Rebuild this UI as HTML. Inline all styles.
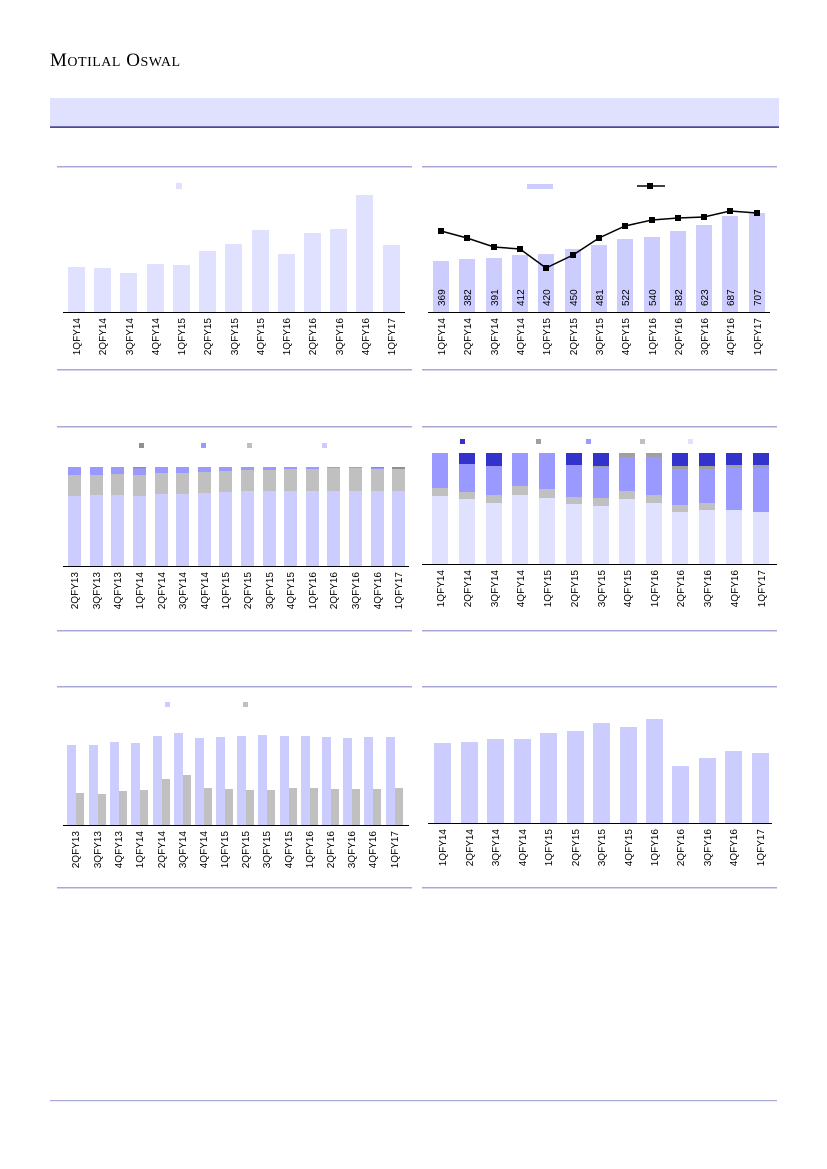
<!DOCTYPE html>
<html><head><meta charset="utf-8"><style>
body{margin:0;background:#fff}
svg{display:block}
text{font-family:"Liberation Sans",sans-serif;font-size:10px;fill:#000}
</style></head><body>
<svg width="827" height="1169" viewBox="0 0 827 1169" xmlns="http://www.w3.org/2000/svg">
<text x="50" y="66" style="font-family:'Liberation Serif',serif;font-size:19px;letter-spacing:0.5px">M<tspan style="font-size:14px">OTILAL</tspan> O<tspan style="font-size:14px">SWAL</tspan></text>
<rect x="50" y="98" width="729" height="29" fill="#e0e0ff"/>
<rect x="50" y="126.5" width="729" height="1.2" fill="#000060"/>
<g fill="#a8a8d8">
<rect x="57" y="166" width="355" height="1.5"/><rect x="422" y="166" width="355" height="1.5"/>
<rect x="57" y="369" width="355" height="1.5"/><rect x="422" y="369" width="355" height="1.5"/>
<rect x="57" y="426" width="355" height="1.5"/><rect x="422" y="426" width="355" height="1.5"/>
<rect x="57" y="630" width="355" height="1.5"/><rect x="422" y="630" width="355" height="1.5"/>
<rect x="57" y="686" width="355" height="1.5"/><rect x="422" y="686" width="355" height="1.5"/>
<rect x="57" y="887" width="355" height="1.5"/><rect x="422" y="887" width="355" height="1.5"/>
<rect x="50" y="1100" width="727" height="1.2"/>
</g>

<!-- Chart 1 -->
<g fill="#e0e0ff">
<rect x="176" y="183" width="6" height="6"/>
<rect x="68" y="267" width="17" height="45"/><rect x="94" y="268" width="17" height="44"/><rect x="120" y="273" width="17" height="39"/><rect x="147" y="264" width="17" height="48"/><rect x="173" y="265" width="17" height="47"/><rect x="199" y="251" width="17" height="61"/><rect x="225" y="244" width="17" height="68"/><rect x="252" y="230" width="17" height="82"/><rect x="278" y="254" width="17" height="58"/><rect x="304" y="233" width="17" height="79"/><rect x="330" y="229" width="17" height="83"/><rect x="356" y="195" width="17" height="117"/><rect x="383" y="245" width="17" height="67"/>
</g>
<rect x="63" y="312" width="342" height="1" fill="#000"/>
<g text-anchor="end">
<text transform="translate(80,318) rotate(-90)">1QFY14</text><text transform="translate(106,318) rotate(-90)">2QFY14</text><text transform="translate(133,318) rotate(-90)">3QFY14</text><text transform="translate(159,318) rotate(-90)">4QFY14</text><text transform="translate(185,318) rotate(-90)">1QFY15</text><text transform="translate(211,318) rotate(-90)">2QFY15</text><text transform="translate(238,318) rotate(-90)">3QFY15</text><text transform="translate(264,318) rotate(-90)">4QFY15</text><text transform="translate(290,318) rotate(-90)">1QFY16</text><text transform="translate(316,318) rotate(-90)">2QFY16</text><text transform="translate(343,318) rotate(-90)">3QFY16</text><text transform="translate(369,318) rotate(-90)">4QFY16</text><text transform="translate(395,318) rotate(-90)">1QFY17</text>
</g>

<!-- Chart 2 -->
<g fill="#ccccff">
<rect x="527" y="184" width="26" height="5"/>
<rect x="433" y="261" width="16" height="51"/><rect x="459" y="259" width="16" height="53"/><rect x="486" y="258" width="16" height="54"/><rect x="512" y="255" width="16" height="57"/><rect x="538" y="254" width="16" height="58"/><rect x="565" y="249" width="16" height="63"/><rect x="591" y="245" width="16" height="67"/><rect x="617" y="239" width="16" height="73"/><rect x="644" y="237" width="16" height="75"/><rect x="670" y="231" width="16" height="81"/><rect x="696" y="225" width="16" height="87"/><rect x="722" y="216" width="16" height="96"/><rect x="749" y="213" width="16" height="99"/>
</g>
<rect x="428" y="312" width="342" height="1" fill="#000"/>
<line x1="637" y1="186" x2="665" y2="186" stroke="#000" stroke-width="1.5"/><rect x="647" y="183" width="6" height="6" fill="#000"/>
<polyline points="441,231 467,238 494,247 520,249 546,268 573,255 599,238 625,226 652,220 678,218 704,217 730,211 757,213" fill="none" stroke="#000" stroke-width="1.5"/>
<g fill="#000">
<rect x="438" y="228" width="6" height="6"/><rect x="464" y="235" width="6" height="6"/><rect x="491" y="244" width="6" height="6"/><rect x="517" y="246" width="6" height="6"/><rect x="543" y="265" width="6" height="6"/><rect x="570" y="252" width="6" height="6"/><rect x="596" y="235" width="6" height="6"/><rect x="622" y="223" width="6" height="6"/><rect x="649" y="217" width="6" height="6"/><rect x="675" y="215" width="6" height="6"/><rect x="701" y="214" width="6" height="6"/><rect x="727" y="208" width="6" height="6"/><rect x="754" y="210" width="6" height="6"/>
</g>
<g text-anchor="start">
<text transform="translate(445,306) rotate(-90)">369</text><text transform="translate(471,306) rotate(-90)">382</text><text transform="translate(498,306) rotate(-90)">391</text><text transform="translate(524,306) rotate(-90)">412</text><text transform="translate(550,306) rotate(-90)">420</text><text transform="translate(577,306) rotate(-90)">450</text><text transform="translate(603,306) rotate(-90)">481</text><text transform="translate(629,306) rotate(-90)">522</text><text transform="translate(656,306) rotate(-90)">540</text><text transform="translate(682,306) rotate(-90)">582</text><text transform="translate(708,306) rotate(-90)">623</text><text transform="translate(734,306) rotate(-90)">687</text><text transform="translate(761,306) rotate(-90)">707</text>
</g>
<g text-anchor="end">
<text transform="translate(445,318) rotate(-90)">1QFY14</text><text transform="translate(471,318) rotate(-90)">2QFY14</text><text transform="translate(498,318) rotate(-90)">3QFY14</text><text transform="translate(524,318) rotate(-90)">4QFY14</text><text transform="translate(550,318) rotate(-90)">1QFY15</text><text transform="translate(577,318) rotate(-90)">2QFY15</text><text transform="translate(603,318) rotate(-90)">3QFY15</text><text transform="translate(629,318) rotate(-90)">4QFY15</text><text transform="translate(656,318) rotate(-90)">1QFY16</text><text transform="translate(682,318) rotate(-90)">2QFY16</text><text transform="translate(708,318) rotate(-90)">3QFY16</text><text transform="translate(734,318) rotate(-90)">4QFY16</text><text transform="translate(761,318) rotate(-90)">1QFY17</text>
</g>

<!-- Chart 3 -->
<rect x="139" y="443" width="5" height="5" fill="#909090"/><rect x="201" y="443" width="5" height="5" fill="#9999ff"/><rect x="247" y="443" width="5" height="5" fill="#c0c0c0"/><rect x="322" y="443" width="5" height="5" fill="#ccccff"/>
<g fill="#ccccff">
<rect x="68" y="496" width="13" height="70"/><rect x="90" y="495" width="13" height="71"/><rect x="111" y="495" width="13" height="71"/><rect x="133" y="496" width="13" height="70"/><rect x="155" y="494" width="13" height="72"/><rect x="176" y="494" width="13" height="72"/><rect x="198" y="493" width="13" height="73"/><rect x="219" y="492" width="13" height="74"/><rect x="241" y="491" width="13" height="75"/><rect x="263" y="491" width="13" height="75"/><rect x="284" y="491" width="13" height="75"/><rect x="306" y="491" width="13" height="75"/><rect x="327" y="491" width="13" height="75"/><rect x="349" y="491" width="13" height="75"/><rect x="371" y="491" width="13" height="75"/><rect x="392" y="491" width="13" height="75"/>
</g>
<g fill="#c0c0c0">
<rect x="68" y="475" width="13" height="21"/><rect x="90" y="475" width="13" height="20"/><rect x="111" y="474" width="13" height="21"/><rect x="133" y="475" width="13" height="21"/><rect x="155" y="473" width="13" height="21"/><rect x="176" y="473" width="13" height="21"/><rect x="198" y="472" width="13" height="21"/><rect x="219" y="471" width="13" height="21"/><rect x="241" y="470" width="13" height="21"/><rect x="263" y="470" width="13" height="21"/><rect x="284" y="469" width="13" height="22"/><rect x="306" y="469" width="13" height="22"/><rect x="327" y="468" width="13" height="23"/><rect x="349" y="468" width="13" height="23"/><rect x="371" y="469" width="13" height="22"/><rect x="392" y="469" width="13" height="22"/>
</g>
<g fill="#9999ff">
<rect x="68" y="467" width="13" height="8"/><rect x="90" y="467" width="13" height="8"/><rect x="111" y="467" width="13" height="7"/><rect x="133" y="468" width="13" height="7"/><rect x="155" y="467" width="13" height="6"/><rect x="176" y="467" width="13" height="6"/><rect x="198" y="467" width="13" height="5"/><rect x="219" y="467" width="13" height="4"/><rect x="241" y="467" width="13" height="3"/><rect x="263" y="467" width="13" height="3"/><rect x="284" y="467" width="13" height="2"/><rect x="306" y="467" width="13" height="2"/><rect x="327" y="467" width="13" height="1"/><rect x="349" y="467" width="13" height="1"/><rect x="371" y="468" width="13" height="1"/>
</g>
<g fill="#909090"><rect x="133" y="467" width="13" height="1.3"/><rect x="371" y="467" width="13" height="1"/><rect x="392" y="467" width="13" height="2"/></g>
<rect x="63" y="566" width="346" height="1" fill="#000"/>
<g text-anchor="end">
<text transform="translate(78,572) rotate(-90)">2QFY13</text><text transform="translate(100,572) rotate(-90)">3QFY13</text><text transform="translate(121,572) rotate(-90)">4QFY13</text><text transform="translate(143,572) rotate(-90)">1QFY14</text><text transform="translate(165,572) rotate(-90)">2QFY14</text><text transform="translate(186,572) rotate(-90)">3QFY14</text><text transform="translate(208,572) rotate(-90)">4QFY14</text><text transform="translate(229,572) rotate(-90)">1QFY15</text><text transform="translate(251,572) rotate(-90)">2QFY15</text><text transform="translate(273,572) rotate(-90)">3QFY15</text><text transform="translate(294,572) rotate(-90)">4QFY15</text><text transform="translate(316,572) rotate(-90)">1QFY16</text><text transform="translate(337,572) rotate(-90)">2QFY16</text><text transform="translate(359,572) rotate(-90)">3QFY16</text><text transform="translate(381,572) rotate(-90)">4QFY16</text><text transform="translate(402,572) rotate(-90)">1QFY17</text>
</g>

<!-- Chart 4 -->
<rect x="460" y="439" width="5" height="5" fill="#3333cc"/><rect x="536" y="439" width="5" height="5" fill="#a0a0a0"/><rect x="586" y="439" width="5" height="5" fill="#9999ff"/><rect x="640" y="439" width="5" height="5" fill="#c0c0c0"/><rect x="688" y="439" width="5" height="5" fill="#e0e0ff"/>
<g fill="#e0e0ff">
<rect x="432" y="496" width="16" height="68"/><rect x="459" y="499" width="16" height="65"/><rect x="486" y="503" width="16" height="61"/><rect x="512" y="495" width="16" height="69"/><rect x="539" y="498" width="16" height="66"/><rect x="566" y="504" width="16" height="60"/><rect x="593" y="506" width="16" height="58"/><rect x="619" y="499" width="16" height="65"/><rect x="646" y="503" width="16" height="61"/><rect x="672" y="512" width="16" height="52"/><rect x="699" y="510" width="16" height="54"/><rect x="726" y="510" width="16" height="54"/><rect x="753" y="512" width="16" height="52"/>
</g>
<g fill="#c0c0c0">
<rect x="432" y="488" width="16" height="8"/><rect x="459" y="492" width="16" height="7"/><rect x="486" y="495" width="16" height="8"/><rect x="512" y="486" width="16" height="9"/><rect x="539" y="489" width="16" height="9"/><rect x="566" y="497" width="16" height="7"/><rect x="593" y="498" width="16" height="8"/><rect x="619" y="491" width="16" height="8"/><rect x="646" y="495" width="16" height="8"/><rect x="672" y="505" width="16" height="7"/><rect x="699" y="503" width="16" height="7"/>
</g>
<g fill="#9999ff">
<rect x="432" y="453" width="16" height="35"/><rect x="459" y="464" width="16" height="28"/><rect x="486" y="466" width="16" height="29"/><rect x="512" y="453" width="16" height="33"/><rect x="539" y="453" width="16" height="36"/><rect x="566" y="465" width="16" height="32"/><rect x="593" y="467" width="16" height="31"/><rect x="619" y="457" width="16" height="34"/><rect x="646" y="457" width="16" height="38"/><rect x="672" y="469" width="16" height="36"/><rect x="699" y="469" width="16" height="34"/><rect x="726" y="468" width="16" height="42"/><rect x="753" y="468" width="16" height="44"/>
</g>
<g fill="#a0a0a0">
<rect x="593" y="466" width="16" height="1"/><rect x="619" y="453" width="16" height="4"/><rect x="646" y="453" width="16" height="4"/><rect x="672" y="466" width="16" height="3"/><rect x="699" y="466" width="16" height="3"/><rect x="726" y="465" width="16" height="3"/><rect x="753" y="465" width="16" height="3"/>
</g>
<g fill="#3333cc">
<rect x="459" y="453" width="16" height="11"/><rect x="486" y="453" width="16" height="13"/><rect x="566" y="453" width="16" height="12"/><rect x="593" y="453" width="16" height="13"/><rect x="672" y="453" width="16" height="13"/><rect x="699" y="453" width="16" height="13"/><rect x="726" y="453" width="16" height="12"/><rect x="753" y="453" width="16" height="12"/>
</g>
<rect x="422" y="564" width="355" height="1" fill="#000"/>
<g text-anchor="end">
<text transform="translate(444,570) rotate(-90)">1QFY14</text><text transform="translate(471,570) rotate(-90)">2QFY14</text><text transform="translate(498,570) rotate(-90)">3QFY14</text><text transform="translate(524,570) rotate(-90)">4QFY14</text><text transform="translate(551,570) rotate(-90)">1QFY15</text><text transform="translate(578,570) rotate(-90)">2QFY15</text><text transform="translate(605,570) rotate(-90)">3QFY15</text><text transform="translate(631,570) rotate(-90)">4QFY15</text><text transform="translate(658,570) rotate(-90)">1QFY16</text><text transform="translate(684,570) rotate(-90)">2QFY16</text><text transform="translate(711,570) rotate(-90)">3QFY16</text><text transform="translate(738,570) rotate(-90)">4QFY16</text><text transform="translate(765,570) rotate(-90)">1QFY17</text>
</g>

<!-- Chart 5 -->
<rect x="165" y="702" width="5" height="5" fill="#ccccff"/><rect x="243" y="702" width="5" height="5" fill="#c0c0c0"/>
<g fill="#ccccff">
<rect x="67" y="745" width="9" height="80"/><rect x="89" y="745" width="9" height="80"/><rect x="110" y="742" width="9" height="83"/><rect x="131" y="743" width="9" height="82"/><rect x="153" y="736" width="9" height="89"/><rect x="174" y="733" width="9" height="92"/><rect x="195" y="738" width="9" height="87"/><rect x="216" y="737" width="9" height="88"/><rect x="237" y="736" width="9" height="89"/><rect x="258" y="735" width="9" height="90"/><rect x="280" y="736" width="9" height="89"/><rect x="301" y="736" width="9" height="89"/><rect x="322" y="737" width="9" height="88"/><rect x="343" y="738" width="9" height="87"/><rect x="364" y="737" width="9" height="88"/><rect x="386" y="737" width="9" height="88"/>
</g>
<g fill="#c0c0c0">
<rect x="76" y="793" width="8" height="32"/><rect x="98" y="794" width="8" height="31"/><rect x="119" y="791" width="8" height="34"/><rect x="140" y="790" width="8" height="35"/><rect x="162" y="779" width="8" height="46"/><rect x="183" y="775" width="8" height="50"/><rect x="204" y="788" width="8" height="37"/><rect x="225" y="789" width="8" height="36"/><rect x="246" y="790" width="8" height="35"/><rect x="267" y="790" width="8" height="35"/><rect x="289" y="788" width="8" height="37"/><rect x="310" y="788" width="8" height="37"/><rect x="331" y="789" width="8" height="36"/><rect x="352" y="789" width="8" height="36"/><rect x="373" y="789" width="8" height="36"/><rect x="395" y="788" width="8" height="37"/>
</g>
<rect x="63" y="825" width="346" height="1" fill="#000"/>
<g text-anchor="end">
<text transform="translate(79,831) rotate(-90)">2QFY13</text><text transform="translate(101,831) rotate(-90)">3QFY13</text><text transform="translate(122,831) rotate(-90)">4QFY13</text><text transform="translate(143,831) rotate(-90)">1QFY14</text><text transform="translate(165,831) rotate(-90)">2QFY14</text><text transform="translate(186,831) rotate(-90)">3QFY14</text><text transform="translate(207,831) rotate(-90)">4QFY14</text><text transform="translate(228,831) rotate(-90)">1QFY15</text><text transform="translate(249,831) rotate(-90)">2QFY15</text><text transform="translate(270,831) rotate(-90)">3QFY15</text><text transform="translate(292,831) rotate(-90)">4QFY15</text><text transform="translate(313,831) rotate(-90)">1QFY16</text><text transform="translate(334,831) rotate(-90)">2QFY16</text><text transform="translate(355,831) rotate(-90)">3QFY16</text><text transform="translate(376,831) rotate(-90)">4QFY16</text><text transform="translate(398,831) rotate(-90)">1QFY17</text>
</g>

<!-- Chart 6 -->
<g fill="#ccccff">
<rect x="434" y="743" width="17" height="80"/><rect x="461" y="742" width="17" height="81"/><rect x="487" y="739" width="17" height="84"/><rect x="514" y="739" width="17" height="84"/><rect x="540" y="733" width="17" height="90"/><rect x="567" y="731" width="17" height="92"/><rect x="593" y="723" width="17" height="100"/><rect x="620" y="727" width="17" height="96"/><rect x="646" y="719" width="17" height="104"/><rect x="672" y="766" width="17" height="57"/><rect x="699" y="758" width="17" height="65"/><rect x="725" y="751" width="17" height="72"/><rect x="752" y="753" width="17" height="70"/>
</g>
<rect x="428" y="823" width="344" height="1" fill="#000"/>
<g text-anchor="end">
<text transform="translate(446,829) rotate(-90)">1QFY14</text><text transform="translate(473,829) rotate(-90)">2QFY14</text><text transform="translate(499,829) rotate(-90)">3QFY14</text><text transform="translate(526,829) rotate(-90)">4QFY14</text><text transform="translate(552,829) rotate(-90)">1QFY15</text><text transform="translate(579,829) rotate(-90)">2QFY15</text><text transform="translate(605,829) rotate(-90)">3QFY15</text><text transform="translate(632,829) rotate(-90)">4QFY15</text><text transform="translate(658,829) rotate(-90)">1QFY16</text><text transform="translate(684,829) rotate(-90)">2QFY16</text><text transform="translate(711,829) rotate(-90)">3QFY16</text><text transform="translate(737,829) rotate(-90)">4QFY16</text><text transform="translate(764,829) rotate(-90)">1QFY17</text>
</g>
</svg>
</body></html>
